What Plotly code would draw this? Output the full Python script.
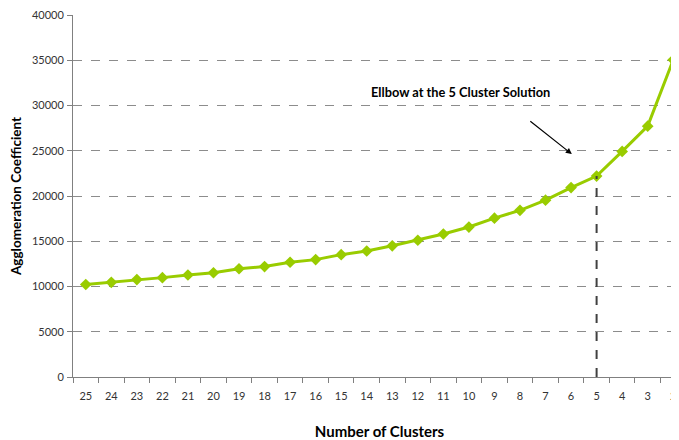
import plotly.graph_objects as go

clusters = ["25", "24", "23", "22", "21", "20", "19", "18", "17", "16", "15", "14",
            "13", "12", "11", "10", "9", "8", "7", "6", "5", "4", "3", "2"]
coefficients = [10220, 10460, 10760, 10980, 11270, 11520, 11960, 12200, 12680, 12970,
                13520, 13920, 14500, 15110, 15800, 16570, 17550, 18420, 19540, 20930,
                22200, 24930, 27720, 35050]
y_ticks = [0, 5000, 10000, 15000, 20000, 25000, 30000, 35000, 40000]
elbow_cluster = "5"
elbow_value = coefficients[clusters.index(elbow_cluster)]

font_family = "Lato, 'Open Sans', sans-serif"
green = "#99CC00"

fig = go.Figure()
fig.add_trace(go.Scatter(
    x=clusters, y=coefficients, mode="lines+markers",
    line=dict(color=green, width=3),
    marker=dict(symbol="diamond", size=9, color=green),
    showlegend=False))
fig.add_trace(go.Scatter(
    x=[elbow_cluster, elbow_cluster], y=[0, elbow_value], mode="lines",
    line=dict(color="#404040", width=2, dash="dash"), hoverinfo="skip", showlegend=False))

fig.add_annotation(x=19.03, y=24630, xref="x", yref="y", ax=-43, ay=-34,
                   showarrow=True, arrowhead=2, arrowsize=1, arrowwidth=1.2,
                   arrowcolor="black", text="")
fig.add_annotation(x=14.68, y=31500, xref="x", yref="y", showarrow=False,
                   text="<b>Ellbow at the 5 Cluster Solution</b>",
                   font=dict(family=font_family, size=12.8, color="black"))

fig.update_layout(
    width=700, height=432,
    margin=dict(l=65, r=22, t=7, b=63, autoexpand=False),
    plot_bgcolor="white", paper_bgcolor="white",
    font=dict(family=font_family, size=11, color="#333333"),
)
fig.update_xaxes(
    type="category", categoryorder="array", categoryarray=clusters,
    range=[-0.5, 23.5],
    tickson="boundaries", ticks="outside", ticklen=5, tickcolor="#808080",
    showline=True, linecolor="#808080", linewidth=1,
    showgrid=False, zeroline=False, ticklabelstandoff=9,
    ticklabeloverflow="allow",
    tickfont=dict(size=11, color="#333333"),
    title=dict(text="<b>Number of Clusters</b>", font=dict(size=15, color="black"), standoff=28),
)
fig.update_yaxes(
    range=[0, 40000], tickvals=y_ticks, ticktext=[str(v) for v in y_ticks],
    ticks="outside", ticklen=5, tickcolor="#808080",
    showline=True, linecolor="#808080", linewidth=1,
    showgrid=True, gridcolor="#8c8c8c", griddash="dash", gridwidth=1,
    zeroline=False, ticklabelstandoff=1,
    ticklabeloverflow="allow",
    tickfont=dict(size=11, color="#333333"),
    title=dict(text="<b>Agglomeration Coefficient</b>", font=dict(size=13.5, color="black"), standoff=11),
)

fig.write_html("out.html")
